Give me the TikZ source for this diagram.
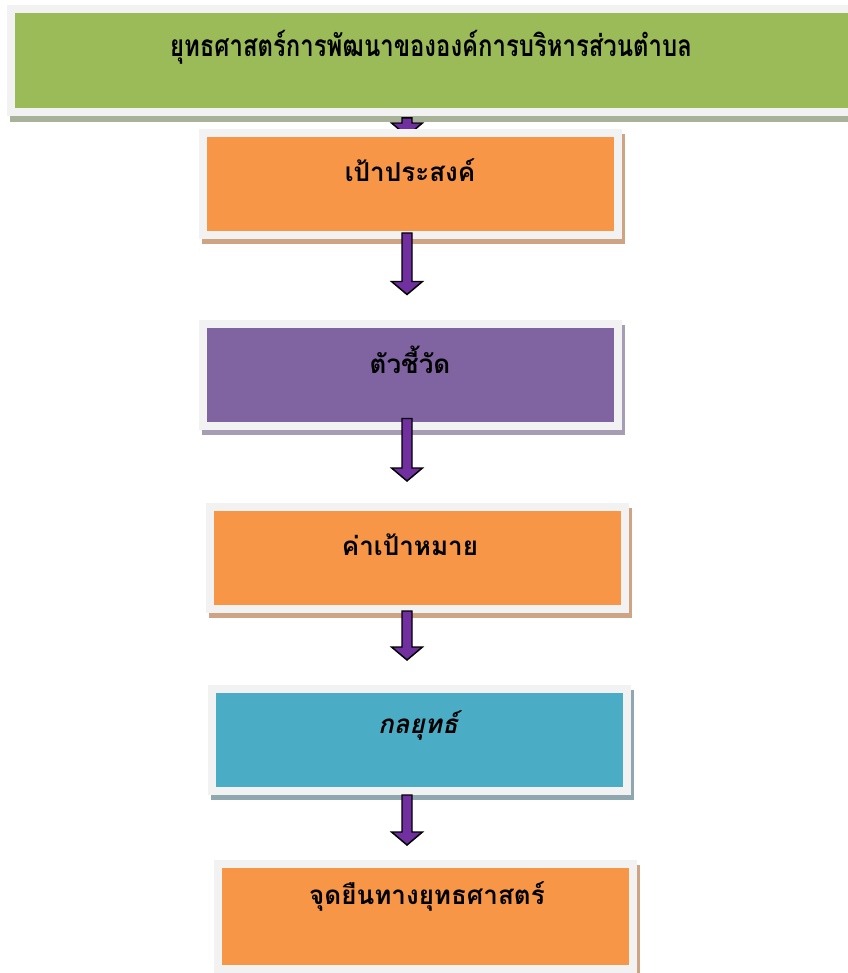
\documentclass[tikz,border=0pt]{standalone}
\usepackage{fontspec}
\newfontfamily\thaifont[Script=Thai]{Loma}
\newfontfamily\thainarrow[Script=Thai,FakeStretch=0.8]{Loma}
\definecolor{frame}{HTML}{F2F2F2}
\definecolor{G}{HTML}{9BBB59}
\definecolor{O}{HTML}{F79646}
\definecolor{P}{HTML}{8064A2}
\definecolor{B}{HTML}{4BACC6}
\definecolor{Gshade}{HTML}{A8B298}
\definecolor{Oshade}{HTML}{CFA485}
\definecolor{Pshade}{HTML}{A69DB5}
\definecolor{Bshade}{HTML}{8FA8B0}
\definecolor{arrowfill}{HTML}{7030A0}
\usetikzlibrary{calc}
\usetikzlibrary{backgrounds}
\tikzstyle{base}=[x=0.75pt, y=-0.75pt, inner sep=0pt]
\tikzstyle{box}=[rectangle, draw=frame, line width=6pt, minimum width=311.25pt, minimum height=76.5pt]
\tikzstyle{label}=[font=\thaifont\bfseries\fontsize{19.5}{22}\selectfont, black]
\tikzstyle{flow}=[fill=arrowfill, draw=black, line width=1.1pt, line join=miter]
% block arrow down the spine: from, to, lift at start, gap before end
\newcommand{\flowarrow}[4]{%
    \filldraw[flow] let \p1=($(#1 -| spine)+(0,-#3)$), \p2=($(#2 -| spine)+(0,-#4)$) in
        (\x1-3.75pt,\y1) -- (\x1+3.75pt,\y1) -- (\x1+3.75pt,\y2+9.75pt) -- (\x1+11.6pt,\y2+9.75pt)
        -- (\x1,\y2) -- (\x1-11.6pt,\y2+9.75pt) -- (\x1-3.75pt,\y2+9.75pt) -- cycle;}

\begin{document}
\begin{tikzpicture}[base]
    \useasboundingbox (0,0) rectangle (847,973);
    \coordinate (spine) at (407,0);

    \node [box, fill=G, minimum width=641.25pt, minimum height=77pt] (plan) at (438.5,60.5) {};
    \node [box, fill=O] (goal) at (410.5,184) {};
    \node [box, fill=P] (kpi) at (410.5,374.5) {};
    \node [box, fill=O] (target) at (417.5,558) {};
    \node [box, fill=B] (tactic) at (419.5,740) {};
    \node [box, fill=O, minimum height=78.75pt] (position) at (425.5,916.5) {};

    \begin{pgfonlayer}{background}
        \fill [Gshade] ($(plan.north west)+(3,6)$) rectangle ($(plan.south east)+(3,6)$);
        \foreach \n/\c in {goal/Oshade, kpi/Pshade, target/Oshade, tactic/Bshade, position/Oshade}
            \fill [\c] ($(\n.north west)+(3,5)$) rectangle ($(\n.south east)+(3,5)$);
        \flowarrow{plan.south}{goal.north}{-2}{-7}
    \end{pgfonlayer}

    \flowarrow{goal.south}{kpi.north}{6}{25}
    \flowarrow{kpi.south}{target.north}{11}{22}
    \flowarrow{target.south}{tactic.north}{2}{25}
    \flowarrow{tactic.south}{position.north}{0}{15}

    \node [label, font=\thainarrow\bfseries\fontsize{22.4}{26}\selectfont] (plantext) at (431,47) {ยุทธศาสตร์การพัฒนาขององค์การบริหารส่วนตำบล};
    \node [label] (goaltext) at (410,170) {เป้าประสงค์};
    \node [label] (kpitext) at (410,360) {ตัวชี้วัด};
    \node [label] (targettext) at (410,545) {ค่าเป้าหมาย};
    \node [label, font=\thaifont\bfseries\itshape\fontsize{19.5}{22}\selectfont] (tactictext) at (418,725) {กลยุทธ์};
    \node [label] (positiontext) at (427,896) {จุดยืนทางยุทธศาสตร์};
\end{tikzpicture}
\end{document}
